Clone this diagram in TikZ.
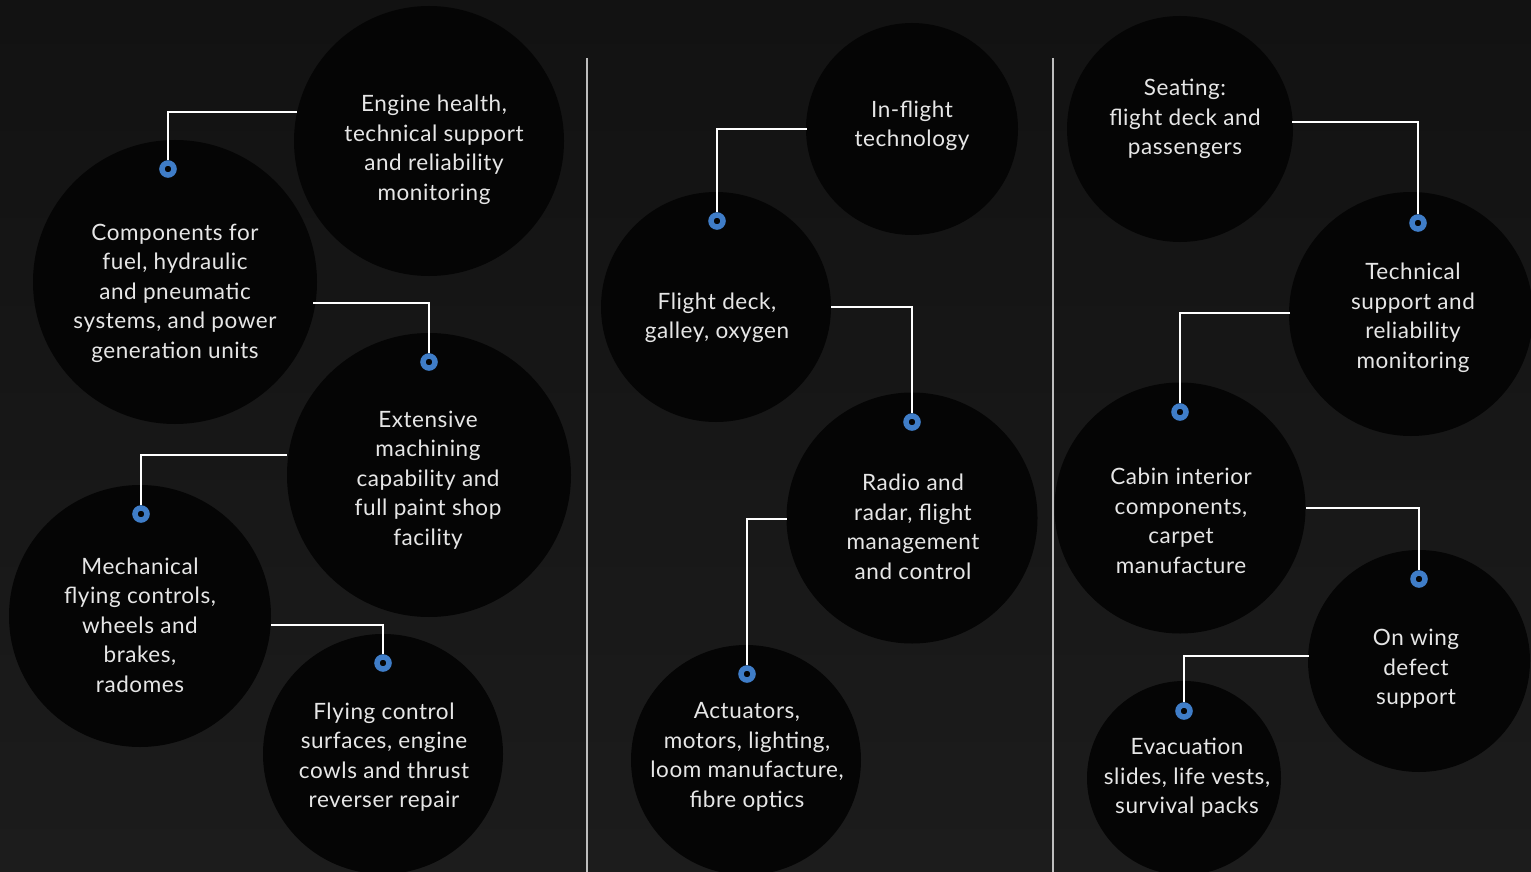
\documentclass[tikz,border=0pt]{standalone}
\usepackage{fontspec}
\setmainfont{Lato}[LetterSpace=2.5]
\begin{document}
\begin{tikzpicture}[x=1pt,y=-1pt,
  bub/.style={circle,fill=bubfill,draw=none,minimum size=#1,inner sep=0pt},
  lbl/.style={align=center,text=txtcol,font=\fontsize{22.5}{29.5}\selectfont,inner sep=0pt},
  conn/.style={draw=white,line width=2.2pt},
  ring/.style={circle,draw=ringblue,line width=5.5pt,fill=bubfill,minimum size=12pt,inner sep=0pt},
  divider/.style={draw=divcol,line width=1.6pt}]
\definecolor{bgtop}{HTML}{121212}
\definecolor{bgbot}{HTML}{1C1C1C}
\definecolor{bubfill}{HTML}{050505}
\definecolor{txtcol}{HTML}{E6E6E6}
\definecolor{ringblue}{HTML}{3F7DC8}
\definecolor{divcol}{HTML}{BDBDBD}
\shade[top color=bgtop,bottom color=bgbot] (0,0) rectangle (1531,872);
\useasboundingbox (0,0) rectangle (1531,872);
% dividers
\coordinate (d1a) at (587,58); \coordinate (d1b) at (587,872);
\coordinate (d2a) at (1053,58); \coordinate (d2b) at (1053,872);
\draw[divider] (d1a) -- (d1b);
\draw[divider] (d2a) -- (d2b);
% bubbles
\node[bub=270pt] (c1) at (429,141) {};
\node[bub=284pt] (c2) at (175,282) {};
\node[bub=284pt] (c3) at (429,475) {};
\node[bub=262pt] (c4) at (140,616) {};
\node[bub=240pt] (c5) at (383,754) {};
\node[bub=212pt] (c6) at (912,129) {};
\node[bub=230pt] (c7) at (716,307) {};
\node[bub=251pt] (c8) at (912,518) {};
\node[bub=230pt] (c9) at (746,760) {};
\node[bub=226pt] (c10) at (1180,129) {};
\node[bub=244pt] (c11) at (1411,314) {};
\node[bub=251pt] (c12) at (1180,508) {};
\node[bub=222pt] (c13) at (1419,661) {};
\node[bub=194pt] (c14) at (1184,778) {};
% labels
\node[lbl] (t1) at (434,150) {Engine health,\\technical support\\and reliability\\monitoring};
\node[lbl] (t2) at (175,293) {Components for\\fuel, hydraulic\\and pneumatic\\systems, and power\\generation units};
\node[lbl] (t3) at (428,480) {Extensive\\machining\\capability and\\full paint shop\\facility};
\node[lbl] (t4) at (140,625) {Mechanical\\flying controls,\\wheels and\\brakes,\\radomes};
\node[lbl] (t5) at (384,757) {Flying control\\surfaces, engine\\cowls and thrust\\reverser repair};
\node[lbl] (t6) at (912,126) {In-flight\\technology};
\node[lbl] (t7) at (717,318) {Flight deck,\\galley, oxygen};
\node[lbl] (t8) at (913,527) {Radio and\\radar, flight\\management\\and control};
\node[lbl] (t9) at (747,757) {Actuators,\\motors, lighting,\\loom manufacture,\\fibre optics};
\node[lbl] (t10) at (1185,119) {Seating:\\flight deck and\\passengers};
\node[lbl] (t11) at (1413,318) {Technical\\support and\\reliability\\monitoring};
\node[lbl] (t12) at (1181,521) {Cabin interior\\components,\\carpet\\manufacture};
\node[lbl] (t13) at (1416,669) {On wing\\defect\\support};
\node[lbl] (t14) at (1187,778) {Evacuation\\slides, life vests,\\survival packs};
% connector endpoints (ring markers)
\node[ring] (m1) at (168,169) {};
\node[ring] (m2) at (429,362) {};
\node[ring] (m3) at (141,514) {};
\node[ring] (m4) at (383,663) {};
\node[ring] (m5) at (717,221) {};
\node[ring] (m6) at (912,422) {};
\node[ring] (m7) at (747,674) {};
\node[ring] (m8) at (1418,223) {};
\node[ring] (m9) at (1180,412) {};
\node[ring] (m10) at (1419,579) {};
\node[ring] (m11) at (1184,711) {};
% connector start points on bubbles
\coordinate (s1) at (297,112);
\coordinate (s2) at (313,303);
\coordinate (s3) at (287,455);
\coordinate (s4) at (271,625);
\coordinate (s5) at (807,129);
\coordinate (s6) at (831,307);
\coordinate (s7) at (787,519);
\coordinate (s8) at (1292,122);
\coordinate (s9) at (1290,313);
\coordinate (s10) at (1306,508);
\coordinate (s11) at (1309,656);
\foreach \i in {1,...,11}{
  \draw[conn] (s\i) -| (m\i.north);
}
\end{tikzpicture}
\end{document}
